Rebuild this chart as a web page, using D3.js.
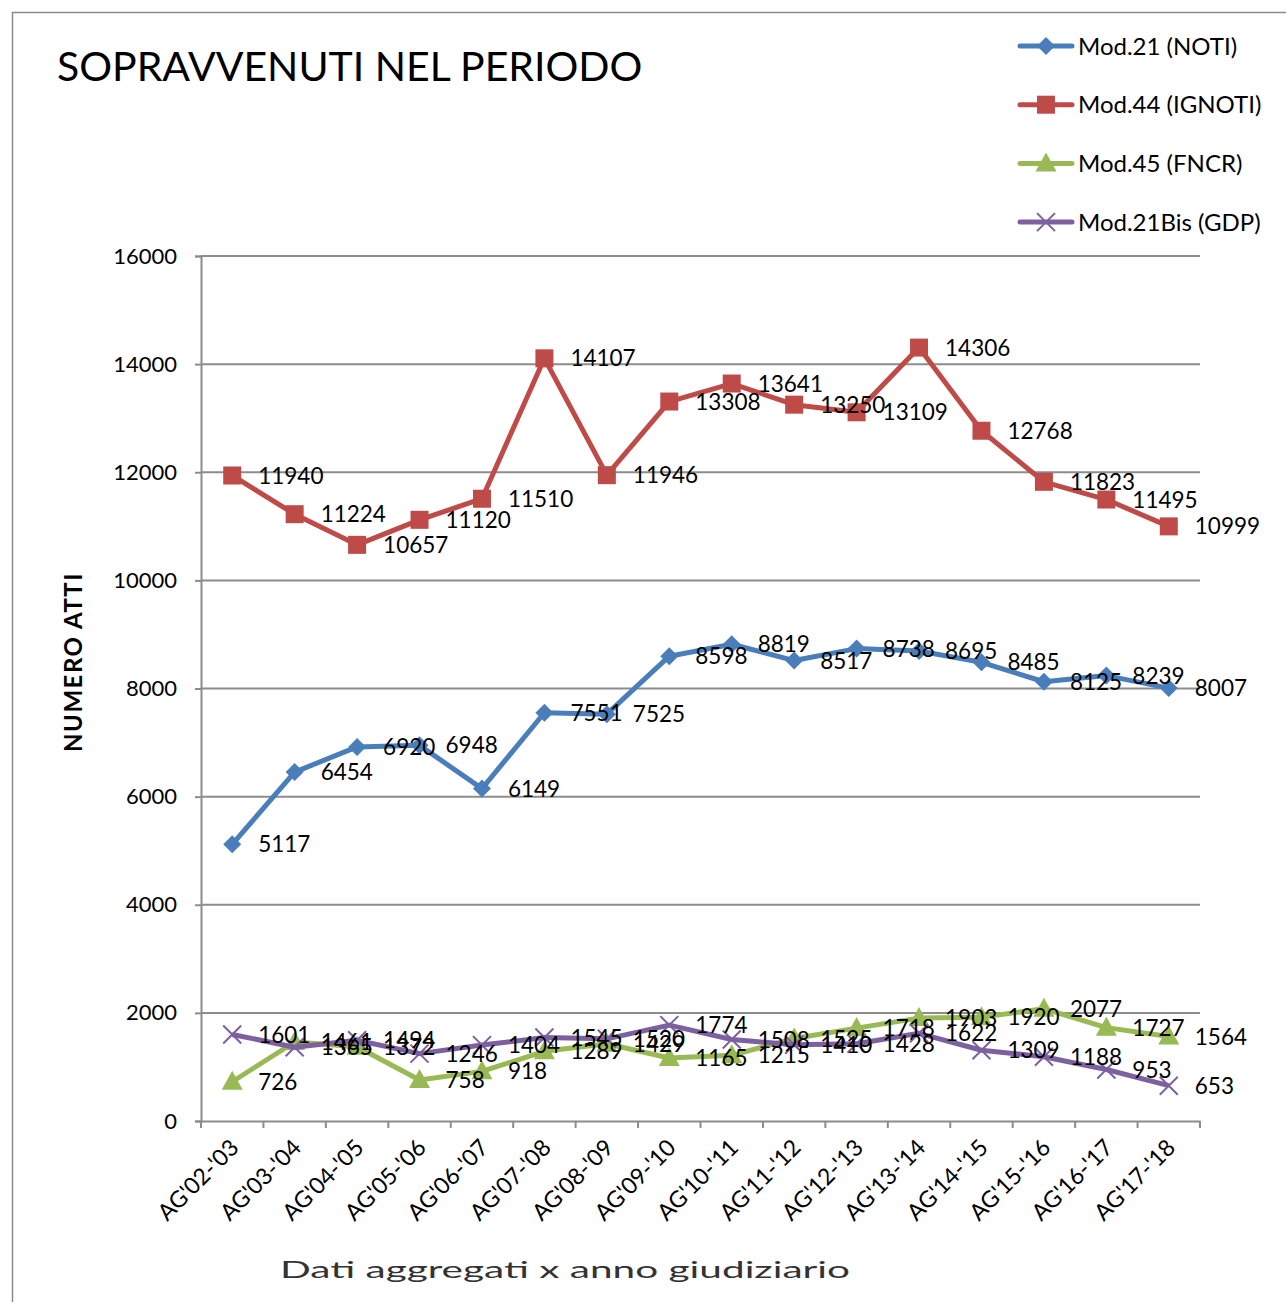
<!DOCTYPE html>
<html>
<head>
<meta charset="utf-8">
<script src="https://cdn.jsdelivr.net/npm/d3@7"></script>
<style>
  body { margin: 0; background: #fff; }
  text { font-family: Lato, "Open Sans", sans-serif; }
</style>
</head>
<body>
<div id="chart"></div>
<script>
const categories = ["AG'02-'03", "AG'03-'04", "AG'04-'05", "AG'05-'06", "AG'06-'07", "AG'07-'08",
  "AG'08-'09", "AG'09-'10", "AG'10-'11", "AG'11-'12", "AG'12-'13", "AG'13-'14",
  "AG'14-'15", "AG'15-'16", "AG'16-'17", "AG'17-'18"]
const mod21 = [5117, 6454, 6920, 6948, 6149, 7551, 7525, 8598, 8819, 8517, 8738, 8695, 8485, 8125, 8239, 8007]
const mod44 = [11940, 11224, 10657, 11120, 11510, 14107, 11946, 13308, 13641, 13250, 13109, 14306, 12768, 11823, 11495, 10999]
const mod45 = [726, 1461, 1372, 758, 918, 1289, 1429, 1165, 1215, 1525, 1718, 1903, 1920, 2077, 1727, 1564]
const mod21bis = [1601, 1365, 1494, 1246, 1404, 1545, 1520, 1774, 1508, 1410, 1428, 1622, 1309, 1188, 953, 653]
const yTicks = [0, 2000, 4000, 6000, 8000, 10000, 12000, 14000, 16000]

const seriesNames = ['Mod.21 (NOTI)', 'Mod.44 (IGNOTI)', 'Mod.45 (FNCR)', 'Mod.21Bis (GDP)']

const width = 1286,
      height = 1302,
      plot = { left: 201, right: 1200, top: 256, bottom: 1121 },
      gridColor = '#8c8c8c',
      fontSize = 22.5

const series = [
  { name: seriesNames[0], values: mod21, color: '#4a7ebb', marker: 'diamond' },
  { name: seriesNames[1], values: mod44, color: '#be4b48', marker: 'square' },
  { name: seriesNames[2], values: mod45, color: '#98b954', marker: 'triangle' },
  { name: seriesNames[3], values: mod21bis, color: '#7d60a0', marker: 'cross' }
]

const svg = d3.select('#chart').append('svg')
  .attr('width', width)
  .attr('height', height)

// outer frame
svg.append('rect')
  .attr('x', 12.5).attr('y', 12.5)
  .attr('width', 1290).attr('height', 1310)
  .attr('fill', 'none')
  .attr('stroke', gridColor)
  .attr('stroke-width', 1.5)

const x = d3.scaleBand().domain(categories).range([plot.left, plot.right])
const y = d3.scaleLinear().domain([0, 16000]).range([plot.bottom, plot.top])
const cx = d => x(d) + x.bandwidth() / 2

// gridlines
svg.append('g').selectAll('line')
  .data(yTicks.filter(d => d > 0))
  .enter().append('line')
    .attr('x1', plot.left).attr('x2', plot.right)
    .attr('y1', d => y(d)).attr('y2', d => y(d))
    .attr('stroke', gridColor).attr('stroke-width', 2)

// y axis
const yAxis = svg.append('g')
  .attr('transform', `translate(${plot.left},0)`)
  .call(d3.axisLeft(y).tickValues(yTicks).tickSize(6).tickPadding(18).tickFormat(d3.format('d')))
yAxis.select('.domain').attr('stroke', gridColor).attr('stroke-width', 2)
yAxis.selectAll('.tick line').attr('stroke', gridColor).attr('stroke-width', 2)
yAxis.selectAll('.tick text')
  .attr('font-size', 22).attr('fill', '#000')
  .style('font-family', 'Lato, sans-serif')

// x axis
const xAxis = svg.append('g')
  .attr('transform', `translate(0,${plot.bottom})`)
  .call(d3.axisBottom(x).tickSize(0).tickFormat(''))
xAxis.select('.domain').attr('stroke', gridColor).attr('stroke-width', 2)
xAxis.selectAll('.tick').remove()
xAxis.selectAll('line.bound')
  .data(d3.range(categories.length + 1))
  .enter().append('line')
    .attr('class', 'bound')
    .attr('x1', i => plot.left + i * x.step())
    .attr('x2', i => plot.left + i * x.step())
    .attr('y1', 0).attr('y2', 7)
    .attr('stroke', gridColor).attr('stroke-width', 2)

svg.append('g').selectAll('text')
  .data(categories)
  .enter().append('text')
    .attr('transform', d => `translate(${cx(d) + 8},${plot.bottom + 28}) rotate(-45)`)
    .attr('text-anchor', 'end')
    .attr('font-size', 23)
    .text(d => d)

// lines
const line = d3.line().x((d, i) => cx(categories[i])).y(d => y(d))
const markerPath = (type, s) => {
  if (type === 'diamond') return `M0,${-s}L${s},0L0,${s}L${-s},0Z`
  if (type === 'square') return `M${-s},${-s}H${s}V${s}H${-s}Z`
  if (type === 'triangle') return `M0,${-s * 1.1}L${s * 1.05},${s * 0.8}H${-s * 1.05}Z`
  return `M${-s},${-s}L${s},${s}M${s},${-s}L${-s},${s}`
}
const markerSize = { diamond: 9, square: 9, triangle: 10, cross: 9 }

series.forEach(s => {
  const g = svg.append('g')
  g.append('path')
    .attr('d', line(s.values))
    .attr('fill', 'none')
    .attr('stroke', s.color)
    .attr('stroke-width', 5)
    .attr('stroke-linejoin', 'round')
  g.selectAll('path.marker')
    .data(s.values)
    .enter().append('path')
      .attr('class', 'marker')
      .attr('transform', (d, i) => `translate(${cx(categories[i])},${y(d)})`)
      .attr('d', markerPath(s.marker, markerSize[s.marker]))
      .attr('fill', s.marker === 'cross' ? 'none' : s.color)
      .attr('stroke', s.color)
      .attr('stroke-width', s.marker === 'cross' ? 2 : 0)
})

// data labels on top
series.forEach(s => {
  svg.append('g').selectAll('text')
    .data(s.values)
    .enter().append('text')
      .attr('x', (d, i) => cx(categories[i]) + 26)
      .attr('y', d => y(d))
      .attr('dy', '0.36em')
      .attr('font-size', fontSize)
      .text(d => d)
})

// title
svg.append('text')
  .attr('x', 57).attr('y', 81)
  .attr('font-size', 41)
  .text('SOPRAVVENUTI NEL PERIODO')

// y title
svg.append('text')
  .attr('transform', 'translate(82,662) rotate(-90)')
  .attr('text-anchor', 'middle')
  .attr('font-size', 24)
  .attr('font-weight', 'bold')
  .attr('letter-spacing', 1.5)
  .text('NUMERO  ATTI')

// x title
svg.append('text')
  .attr('x', 280).attr('y', 1278)
  .attr('font-size', 24)
  .attr('fill', '#333')
  .attr('textLength', 570)
  .attr('lengthAdjust', 'spacingAndGlyphs')
  .text('Dati aggregati x anno giudiziario')

// legend
const legend = svg.append('g').selectAll('g')
  .data(series)
  .enter().append('g')
    .attr('transform', (d, i) => `translate(1020,${46 + i * 58.7})`)
legend.append('line')
  .attr('x1', 0).attr('x2', 52)
  .attr('stroke', d => d.color).attr('stroke-width', 5)
  .attr('stroke-linecap', 'round')
legend.append('path')
  .attr('transform', 'translate(26,0)')
  .attr('d', d => markerPath(d.marker, markerSize[d.marker]))
  .attr('fill', d => d.marker === 'cross' ? 'none' : d.color)
  .attr('stroke', d => d.color)
  .attr('stroke-width', d => d.marker === 'cross' ? 2 : 0)
legend.append('text')
  .attr('x', 58).attr('dy', '0.36em')
  .attr('font-size', 24)
  .text(d => d.name)
</script>
</body>
</html>
